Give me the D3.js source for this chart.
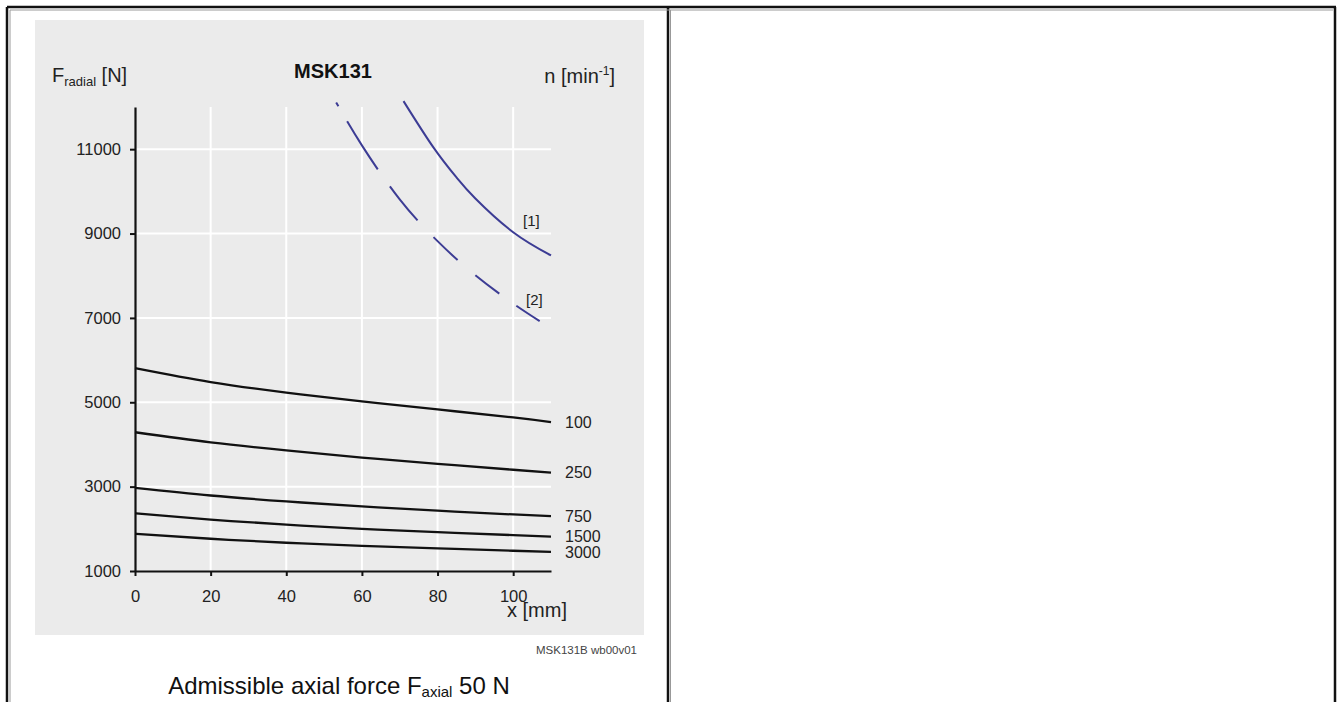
<!DOCTYPE html>
<html>
<head>
<meta charset="utf-8">
<script src="https://cdn.jsdelivr.net/npm/d3@7"></script>
<style>
  html, body { margin: 0; padding: 0; background: #fff; }
  svg { display: block; font-family: "Liberation Sans", Arial, Helvetica, sans-serif; }
</style>
</head>
<body>
<svg id="chart" width="1340" height="702"></svg>
<script>
// ---------- data ----------
const xTicks = [0, 20, 40, 60, 80, 100];
const yTicks = [1000, 3000, 5000, 7000, 9000, 11000];
const speedLabels = ["100", "250", "750", "1500", "3000"];
const xPos = [0, 20, 40, 60, 80, 100, 110];
const f100  = [5810, 5480, 5230, 5020, 4830, 4640, 4530];
const f250  = [4290, 4050, 3860, 3690, 3540, 3400, 3330];
const f750  = [2970, 2790, 2650, 2530, 2430, 2340, 2300];
const f1500 = [2370, 2220, 2100, 2000, 1920, 1850, 1815];
const f3000 = [1880, 1765, 1670, 1595, 1535, 1480, 1455];
const limit1X = [71, 79, 85, 90, 100, 110];
const limit1F = [12140, 11030, 10330, 9830, 9030, 8480];
const limit2X = [53, 60, 70, 80, 90, 100, 107];
const limit2F = [12140, 11090, 9810, 8820, 8010, 7340, 6924];
const limitLabels = ["[1]", "[2]"];

// ---------- style constants ----------
const blue = "#3c3c94";
const dashSpansX = [[53.2, 53.8], [56.1, 64.2], [67.4, 74.7], [78.9, 85.3], [90, 96.3], [100.8, 107.1]];

const svg = d3.select("#chart");

// table borders
const border = svg.append("g");
[[7, 7, 1336, 7], [7, 7, 7, 702], [668, 7, 668, 702], [1335, 7, 1335, 702]].forEach(([x1, y1, x2, y2]) => {
  border.append("line").attr("x1", x1).attr("y1", y1).attr("x2", x2).attr("y2", y2)
    .attr("stroke", "#111").attr("stroke-width", 2.5);
});
border.append("line").attr("x1", 10).attr("y1", 10).attr("x2", 1333).attr("y2", 10).attr("stroke", "#999").attr("stroke-width", 1);
border.append("line").attr("x1", 10).attr("y1", 10).attr("x2", 10).attr("y2", 702).attr("stroke", "#999").attr("stroke-width", 1);
border.append("line").attr("x1", 670.5).attr("y1", 10).attr("x2", 670.5).attr("y2", 702).attr("stroke", "#999").attr("stroke-width", 1);

// gray panel
svg.append("rect").attr("x", 35).attr("y", 20).attr("width", 609).attr("height", 615).attr("fill", "#ebebeb");

const x = d3.scaleLinear().domain([0, 110]).range([135, 551]);
const y = d3.scaleLinear().domain([1000, 12000]).range([571, 107]);

// grid
const grid = svg.append("g").attr("stroke", "#fff").attr("stroke-width", 2);
xTicks.filter(d => d > 0).forEach(d => {
  grid.append("line").attr("x1", x(d)).attr("x2", x(d)).attr("y1", y(12000)).attr("y2", y(1000));
});
yTicks.filter(d => d > 1000).forEach(d => {
  grid.append("line").attr("x1", x(0)).attr("x2", x(110)).attr("y1", y(d)).attr("y2", y(d));
});

// axes
const yAxis = svg.append("g").attr("transform", `translate(${x(0)},0)`)
  .call(d3.axisLeft(y).tickValues(yTicks).tickFormat(d3.format("d")).tickSize(5).tickSizeOuter(0).tickPadding(9));
const xAxis = svg.append("g").attr("transform", `translate(0,${y(1000)})`)
  .call(d3.axisBottom(x).tickValues(xTicks).tickSize(5).tickSizeOuter(0).tickPadding(14));
[yAxis, xAxis].forEach(a => {
  a.select(".domain").attr("stroke", "#111").attr("stroke-width", 2.2);
  a.selectAll(".tick line").attr("stroke", "#111").attr("stroke-width", 2);
  a.selectAll(".tick text").attr("fill", "#222").attr("font-size", 16.5)
    .attr("font-family", "'Liberation Sans', Arial, sans-serif");
});

// speed curves
const line = d3.line().x(d => x(d[0])).y(d => y(d[1])).curve(d3.curveNatural);
const speedSeries = [f100, f250, f750, f1500, f3000];
speedSeries.forEach((s, i) => {
  const pts = xPos.map((xv, j) => [xv, s[j]]);
  svg.append("path").datum(pts).attr("d", line).attr("fill", "none")
    .attr("stroke", "#111").attr("stroke-width", 2.3);
  const last = pts[pts.length - 1];
  svg.append("text").attr("x", x(last[0]) + 14).attr("y", y(last[1]))
    .attr("dy", "0.36em").attr("font-size", 16).attr("fill", "#222").text(speedLabels[i]);
});

// limit curve [1] solid
const l1 = limit1X.map((v, i) => [v, limit1F[i]]);
svg.append("path").datum(l1).attr("d", line).attr("fill", "none").attr("stroke", blue).attr("stroke-width", 2);

// limit curve [2] dashed
const l2 = limit2X.map((v, i) => [v, limit2F[i]]);
const p2 = svg.append("path").datum(l2).attr("d", line).attr("fill", "none").attr("stroke", blue).attr("stroke-width", 2);
const node = p2.node();
const total = node.getTotalLength();
function lenAtX(px) {
  let lo = 0, hi = total;
  for (let k = 0; k < 40; k++) {
    const mid = (lo + hi) / 2;
    if (node.getPointAtLength(mid).x < px) lo = mid; else hi = mid;
  }
  return (lo + hi) / 2;
}
const arr = [];
let cur = 0;
dashSpansX.forEach(([a, b]) => {
  const la = lenAtX(x(a)), lb = lenAtX(x(b));
  arr.push(Math.max(0, la - cur));  // gap
  arr.push(lb - la);                // dash
  cur = lb;
});
arr.push(total);
p2.attr("stroke-dasharray", [0].concat(arr).join(","));

// labels [1] [2]
svg.append("text").attr("x", 523).attr("y", 221).attr("dy", "0.36em").attr("font-size", 15).attr("fill", "#222").text(limitLabels[0]);
svg.append("text").attr("x", 526).attr("y", 300).attr("dy", "0.36em").attr("font-size", 15).attr("fill", "#222").text(limitLabels[1]);

// titles
const fr = svg.append("text").attr("x", 52).attr("y", 82).attr("font-size", 20).attr("fill", "#222");
fr.append("tspan").text("F");
fr.append("tspan").attr("font-size", 13).attr("dy", 4).text("radial");
fr.append("tspan").attr("dy", -4).text(" [N]");

svg.append("text").attr("x", 333).attr("y", 78).attr("text-anchor", "middle")
  .attr("font-size", 20).attr("font-weight", "bold").attr("fill", "#111").text("MSK131");

const nl = svg.append("text").attr("x", 615).attr("y", 83).attr("text-anchor", "end").attr("font-size", 20).attr("fill", "#222");
nl.append("tspan").text("n [min");
nl.append("tspan").attr("font-size", 12).attr("dy", -8).text("-1");
nl.append("tspan").attr("dy", 8).text("]");

svg.append("text").attr("x", 507).attr("y", 617).attr("font-size", 20).attr("fill", "#222").text("x [mm]");

svg.append("text").attr("x", 637).attr("y", 654).attr("text-anchor", "end").attr("font-size", 11.5)
  .attr("fill", "#444").text("MSK131B  wb00v01");

const cap = svg.append("text").attr("x", 339).attr("y", 694).attr("text-anchor", "middle").attr("font-size", 24).attr("fill", "#111");
cap.append("tspan").text("Admissible axial force F");
cap.append("tspan").attr("font-size", 15).attr("dy", 3).text("axial");
cap.append("tspan").attr("dy", -3).text(" 50 N");
</script>
</body>
</html>
